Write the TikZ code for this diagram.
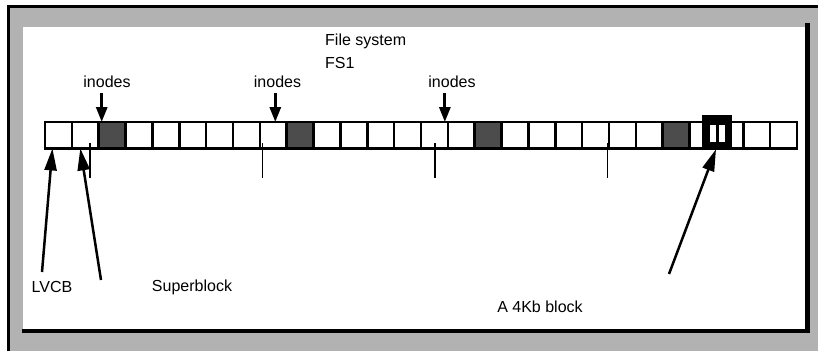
\documentclass[tikz,border=0pt]{standalone}
\usepackage{fontspec}
\setmainfont{Liberation Sans}
\usetikzlibrary{arrows.meta}
\tikzset{
  blk/.style={draw=black, line width=2.5pt, fill=white, minimum width=26.86pt, minimum height=26.4pt, inner sep=0pt, outer sep=0pt},
  iblk/.style={blk, fill=black!70},
  lbl/.style={font=\fontsize{16}{18}\selectfont, inner sep=0pt},
  tick/.style={line width=1.3pt},
  inarrow/.style={-{Triangle[width=11pt,length=15pt]}, line width=3pt},
  longarrow/.style={-{Triangle[width=12pt,length=22pt]}, line width=2.5pt},
}
\begin{document}
\begin{tikzpicture}[x=1pt, y=-1pt]
\useasboundingbox (0,0) rectangle (818,351);
% frame
\fill[black!30] (7,5) rectangle (818,351);
\draw[line width=3pt] (8.5,351) -- (8.5,6.5) -- (818,6.5);
\fill[white] (23,27) rectangle (806,329);
\draw[line width=4.5pt] (22,331) -- (807.5,331) -- (807.5,23);
% row of blocks, inodes every 7th
\foreach \i in {0,...,27}{
  \pgfmathtruncatemacro\m{mod(\i,7)}
  \ifnum\m=2 \def\bs{iblk}\else\def\bs{blk}\fi
  \node[\bs] (b\i) at ({45+26.857*(\i+0.5)},135.2) {};
}
% the picked block
\node[fill=black, minimum width=30pt, minimum height=34pt, inner sep=0pt] (big) at (717,132) {};
\fill[white] (710,125) rectangle (716,141.5);
\fill[white] (718.5,125) rectangle (725,141.5);
% group ticks
\foreach \x in {90,262.5,435,607.5}
  \draw[tick] (\x,143) -- (\x,178);
% labels
\node[lbl, anchor=west] (fs) at (325,41) {File system};
\node[lbl, anchor=west] (fsname) at (325,63) {FS1};
\node[lbl] (ino1) at (107,82) {inodes};
\node[lbl] (ino2) at (277.5,82) {inodes};
\node[lbl] (ino3) at (452,82) {inodes};
\node[lbl] (lvcb) at (52,287) {LVCB};
\node[lbl] (sb) at (192,287) {Superblock};
\node[lbl] (blk4k) at (540,307) {A 4Kb block};
% arrows
\coordinate (i1) at ([xshift=3pt]b2.north west);
\coordinate (i2) at ([xshift=2pt]b8.north);
\coordinate (i3) at ([xshift=-3pt]b15.north west);
\draw[inarrow] ([yshift=-5pt]ino1.south -| i1) -- (i1);
\draw[inarrow] ([yshift=-5pt]ino2.south -| i2) -- (i2);
\draw[inarrow] ([yshift=-5pt]ino3.south -| i3) -- (i3);
\coordinate (lvcbtail) at (42,272);
\coordinate (sbtail) at (101,280);
\coordinate (blktail) at (669,274);
\draw[longarrow] (lvcbtail) -- ([xshift=-6pt]b0.south);
\draw[longarrow] (sbtail) -- ([xshift=-5pt]b1.south);
\draw[longarrow] (blktail) -- ([xshift=-1pt]big.south);
\end{tikzpicture}
\end{document}
